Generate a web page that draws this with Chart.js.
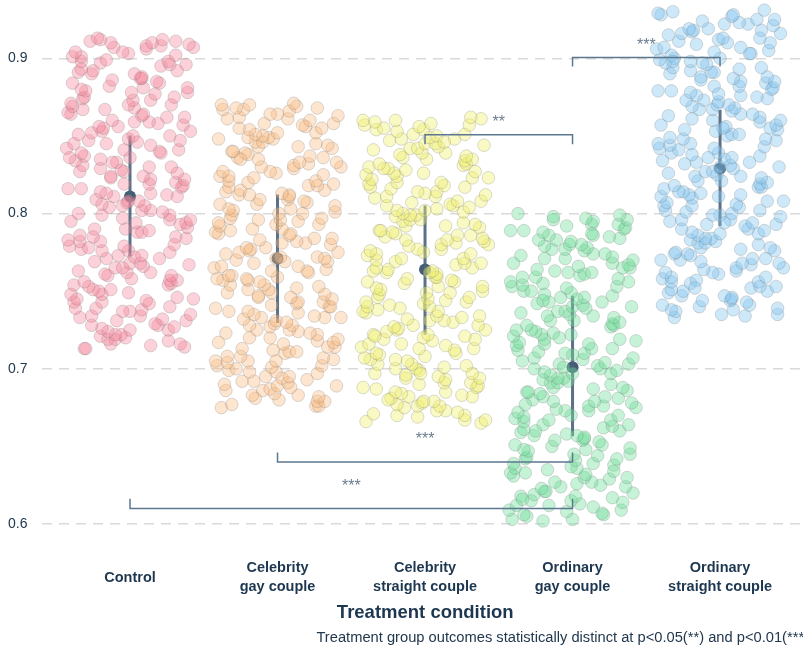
<!DOCTYPE html>
<html>
<head>
<meta charset="utf-8">
<title>Treatment condition</title>
<script src="https://cdn.jsdelivr.net/npm/chart.js"></script>
<style>
  html, body { margin: 0; padding: 0; background: #fff; overflow: hidden; }
  #wrap { position: relative; width: 809px; height: 647px; }
</style>
</head>
<body>
<div id="wrap"><canvas id="outcomeChart"></canvas></div>
<script>
// Values

const categories = ['Control', 'Celebrity gay couple', 'Celebrity straight couple', 'Ordinary gay couple', 'Ordinary straight couple'];
const tickLabels = ['Control', ['Celebrity', 'gay couple'], ['Celebrity', 'straight couple'], ['Ordinary', 'gay couple'], ['Ordinary', 'straight couple']];
const yTicks = [0.6, 0.7, 0.8, 0.9];

// horizontal jitter (category units) of the raw points
const jitterX = [
  -0.31, -0.30, 0.37, 0.14, -0.13, 0.34, 0.26, -0.15, -0.10, -0.03,
  -0.20, -0.06, -0.10, -0.15, 0.26, 0.00, -0.19, 0.30, -0.26, 0.19,
  0.17, -0.09, 0.38, 0.22, -0.34, 0.07, -0.26, 0.41, 0.00, -0.05,
  0.08, -0.23, -0.37, 0.27, 0.13, -0.38, -0.19, 0.11, -0.36, 0.43,
  0.32, -0.19, -0.40, -0.01, -0.21, -0.13, -0.25, -0.28, -0.38, 0.26,
  0.28, -0.31, 0.27, 0.32, 0.01, -0.15, 0.28, -0.17, 0.14, -0.02,
  -0.35, -0.10, -0.05, 0.09, 0.40, 0.00, 0.07, -0.24, -0.16, 0.20,
  0.03, 0.08, -0.08, 0.27, -0.19, -0.01, -0.33, -0.28, -0.04, -0.41,
  0.30, -0.34, -0.20, -0.42, 0.38, 0.31, -0.25, -0.34, 0.05, 0.08,
  0.13, -0.03, -0.24, 0.39, 0.34, 0.04, 0.38, -0.40, 0.27, 0.41,
  -0.05, -0.19, 0.27, -0.35, 0.22, 0.14, 0.08, -0.14, -0.05, 0.10,
  -0.19, -0.02, 0.06, -0.01, -0.23, -0.11, 0.32, 0.25, -0.16, 0.14,
  -0.20, -0.33, -0.42, 0.35, 0.36, -0.04, 0.13, 0.31, 0.14, 0.37,
  -0.13, 0.09, -0.13, 0.32, -0.34, -0.04, -0.06, -0.20, 0.13, 0.28,
  -0.32, -0.09, -0.12, -0.37, -0.20, -0.41, 0.00, -0.31, -0.33, 0.21,
  0.20, -0.04, 0.33, -0.43, 0.14, -0.38, -0.16, 0.05, 0.34, -0.28,
  -0.01, 0.27, 0.02, -0.35, -0.26, 0.41, -0.19, -0.18, -0.21, -0.08,
  0.36, 0.19, 0.03, 0.13, -0.12, 0.25, 0.37, 0.08, -0.40, 0.09,
  -0.42, -0.32, -0.17, 0.03, -0.39, -0.01, 0.28, -0.40, 0.14, 0.02,
  -0.32, 0.30, -0.31, 0.17, 0.01, 0.39, -0.30, -0.33, 0.09, 0.39,
  -0.14, -0.39, 0.20, 0.18, -0.12, 0.07, 0.08, 0.08, -0.26, 0.03,
  -0.35, -0.25, 0.32, -0.33, 0.21, 0.27, 0.38, -0.20, -0.33, 0.26,
  -0.16, -0.39, -0.33, 0.31, -0.01, -0.37, -0.05, 0.11, -0.11, 0.43,
  0.11, 0.21, 0.40, 0.15, -0.13, -0.27, 0.31, 0.22, -0.20, -0.22
];
// where each group starts reading the jitter list
const jitterStart = [0, 48, 96, 144, 192];

const controlY = [
  0.713, 0.713, 0.714, 0.715, 0.716, 0.716, 0.718, 0.719, 0.719, 0.720,
  0.721, 0.722, 0.722, 0.724, 0.725, 0.725, 0.726, 0.727, 0.728, 0.728,
  0.729, 0.731, 0.731, 0.732, 0.733, 0.734, 0.734, 0.735, 0.737, 0.737,
  0.738, 0.739, 0.739, 0.740, 0.742, 0.743, 0.743, 0.744, 0.745, 0.745,
  0.746, 0.748, 0.748, 0.749, 0.750, 0.751, 0.751, 0.753, 0.754, 0.754,
  0.755, 0.756, 0.757, 0.757, 0.758, 0.760, 0.760, 0.761, 0.762, 0.762,
  0.763, 0.765, 0.765, 0.766, 0.767, 0.768, 0.768, 0.769, 0.771, 0.771,
  0.772, 0.773, 0.773, 0.775, 0.776, 0.776, 0.777, 0.778, 0.779, 0.779,
  0.780, 0.782, 0.782, 0.783, 0.784, 0.785, 0.785, 0.786, 0.788, 0.788,
  0.789, 0.790, 0.790, 0.791, 0.793, 0.794, 0.794, 0.795, 0.796, 0.796,
  0.797, 0.799, 0.799, 0.800, 0.801, 0.802, 0.802, 0.804, 0.805, 0.805,
  0.806, 0.807, 0.808, 0.808, 0.809, 0.811, 0.811, 0.812, 0.813, 0.813,
  0.814, 0.816, 0.816, 0.817, 0.818, 0.819, 0.819, 0.820, 0.822, 0.822,
  0.823, 0.824, 0.824, 0.826, 0.827, 0.827, 0.828, 0.829, 0.830, 0.830,
  0.831, 0.833, 0.833, 0.834, 0.835, 0.836, 0.836, 0.837, 0.839, 0.839,
  0.840, 0.841, 0.841, 0.842, 0.844, 0.845, 0.845, 0.846, 0.847, 0.847,
  0.848, 0.850, 0.850, 0.851, 0.852, 0.853, 0.853, 0.855, 0.856, 0.856,
  0.857, 0.858, 0.859, 0.859, 0.860, 0.862, 0.862, 0.863, 0.864, 0.864,
  0.865, 0.867, 0.867, 0.868, 0.869, 0.870, 0.870, 0.871, 0.873, 0.873,
  0.874, 0.875, 0.875, 0.877, 0.878, 0.878, 0.879, 0.880, 0.881, 0.881,
  0.882, 0.884, 0.884, 0.885, 0.886, 0.887, 0.887, 0.888, 0.890, 0.890,
  0.891, 0.892, 0.892, 0.893, 0.895, 0.896, 0.896, 0.897, 0.898, 0.898,
  0.899, 0.901, 0.901, 0.902, 0.903, 0.904, 0.904, 0.906, 0.907, 0.907,
  0.908, 0.908, 0.909, 0.910, 0.910, 0.911, 0.911, 0.912, 0.912, 0.913
];

const celebGayY = [
  0.675, 0.676, 0.676, 0.677, 0.679, 0.679, 0.680, 0.681, 0.682, 0.683,
  0.683, 0.684, 0.686, 0.686, 0.687, 0.688, 0.689, 0.689, 0.691, 0.692,
  0.692, 0.693, 0.694, 0.695, 0.695, 0.697, 0.698, 0.698, 0.699, 0.700,
  0.701, 0.702, 0.702, 0.704, 0.705, 0.705, 0.706, 0.707, 0.708, 0.708,
  0.710, 0.711, 0.711, 0.712, 0.713, 0.714, 0.714, 0.716, 0.717, 0.717,
  0.718, 0.719, 0.720, 0.720, 0.722, 0.723, 0.723, 0.724, 0.725, 0.725,
  0.727, 0.728, 0.728, 0.729, 0.730, 0.731, 0.732, 0.733, 0.733, 0.734,
  0.735, 0.736, 0.737, 0.737, 0.739, 0.740, 0.740, 0.741, 0.742, 0.743,
  0.743, 0.745, 0.746, 0.746, 0.747, 0.748, 0.749, 0.749, 0.751, 0.751,
  0.752, 0.753, 0.754, 0.754, 0.756, 0.757, 0.757, 0.758, 0.759, 0.760,
  0.760, 0.762, 0.763, 0.763, 0.764, 0.765, 0.766, 0.766, 0.768, 0.769,
  0.769, 0.770, 0.771, 0.772, 0.772, 0.774, 0.775, 0.775, 0.776, 0.777,
  0.778, 0.778, 0.780, 0.781, 0.781, 0.782, 0.783, 0.784, 0.784, 0.786,
  0.787, 0.787, 0.788, 0.789, 0.790, 0.790, 0.792, 0.793, 0.793, 0.794,
  0.795, 0.796, 0.797, 0.797, 0.799, 0.800, 0.800, 0.801, 0.802, 0.803,
  0.803, 0.805, 0.806, 0.806, 0.807, 0.808, 0.809, 0.809, 0.811, 0.812,
  0.812, 0.813, 0.814, 0.815, 0.815, 0.817, 0.818, 0.818, 0.819, 0.820,
  0.821, 0.821, 0.823, 0.824, 0.824, 0.825, 0.826, 0.827, 0.827, 0.829,
  0.830, 0.830, 0.831, 0.832, 0.833, 0.833, 0.835, 0.836, 0.836, 0.837,
  0.838, 0.839, 0.840, 0.840, 0.842, 0.843, 0.843, 0.844, 0.845, 0.846,
  0.846, 0.848, 0.849, 0.849, 0.850, 0.851, 0.852, 0.852, 0.854, 0.855,
  0.855, 0.856, 0.857, 0.858, 0.858, 0.860, 0.861, 0.861, 0.862, 0.863,
  0.864, 0.864, 0.866, 0.867, 0.867, 0.868, 0.869, 0.870, 0.870, 0.871,
  0.690, 0.733, 0.771, 0.812, 0.848, 0.705, 0.758, 0.796, 0.835, 0.868
];

const celebStraightY = [
  0.665, 0.666, 0.667, 0.667, 0.669, 0.670, 0.670, 0.671, 0.672, 0.673,
  0.673, 0.675, 0.676, 0.676, 0.677, 0.678, 0.679, 0.679, 0.681, 0.682,
  0.682, 0.683, 0.684, 0.685, 0.685, 0.687, 0.688, 0.688, 0.689, 0.690,
  0.691, 0.691, 0.693, 0.694, 0.694, 0.695, 0.696, 0.697, 0.697, 0.699,
  0.700, 0.700, 0.701, 0.702, 0.703, 0.703, 0.705, 0.706, 0.706, 0.707,
  0.708, 0.709, 0.710, 0.710, 0.712, 0.713, 0.713, 0.714, 0.715, 0.716,
  0.716, 0.718, 0.719, 0.719, 0.720, 0.721, 0.722, 0.722, 0.724, 0.725,
  0.725, 0.726, 0.727, 0.728, 0.728, 0.730, 0.731, 0.731, 0.732, 0.733,
  0.734, 0.734, 0.736, 0.737, 0.737, 0.738, 0.739, 0.740, 0.740, 0.742,
  0.743, 0.743, 0.744, 0.745, 0.746, 0.746, 0.748, 0.749, 0.749, 0.750,
  0.751, 0.752, 0.753, 0.753, 0.755, 0.756, 0.756, 0.757, 0.758, 0.759,
  0.759, 0.761, 0.762, 0.762, 0.763, 0.764, 0.765, 0.765, 0.767, 0.768,
  0.768, 0.769, 0.770, 0.771, 0.771, 0.773, 0.774, 0.774, 0.775, 0.776,
  0.777, 0.777, 0.779, 0.780, 0.780, 0.781, 0.782, 0.783, 0.783, 0.785,
  0.786, 0.786, 0.787, 0.788, 0.789, 0.789, 0.791, 0.792, 0.792, 0.793,
  0.794, 0.795, 0.796, 0.796, 0.798, 0.799, 0.799, 0.800, 0.801, 0.802,
  0.802, 0.804, 0.805, 0.805, 0.806, 0.807, 0.808, 0.808, 0.810, 0.811,
  0.811, 0.812, 0.813, 0.814, 0.814, 0.816, 0.817, 0.817, 0.818, 0.819,
  0.820, 0.820, 0.822, 0.823, 0.823, 0.824, 0.825, 0.826, 0.826, 0.828,
  0.829, 0.829, 0.830, 0.831, 0.832, 0.832, 0.834, 0.835, 0.835, 0.836,
  0.837, 0.838, 0.839, 0.839, 0.841, 0.842, 0.842, 0.843, 0.844, 0.845,
  0.845, 0.847, 0.848, 0.848, 0.849, 0.850, 0.851, 0.851, 0.853, 0.854,
  0.854, 0.855, 0.856, 0.857, 0.857, 0.859, 0.860, 0.860, 0.861, 0.862,
  0.680, 0.721, 0.763, 0.803, 0.846, 0.697, 0.741, 0.784, 0.827, 0.858
];

const ordinaryGayY = [
  0.602, 0.603, 0.603, 0.605, 0.606, 0.606, 0.607, 0.608, 0.609, 0.609,
  0.611, 0.612, 0.612, 0.613, 0.614, 0.615, 0.615, 0.617, 0.618, 0.618,
  0.619, 0.620, 0.621, 0.621, 0.623, 0.624, 0.624, 0.625, 0.626, 0.627,
  0.627, 0.629, 0.630, 0.630, 0.631, 0.632, 0.633, 0.633, 0.635, 0.636,
  0.636, 0.637, 0.638, 0.639, 0.639, 0.641, 0.642, 0.642, 0.643, 0.644,
  0.645, 0.645, 0.647, 0.648, 0.648, 0.649, 0.650, 0.651, 0.651, 0.653,
  0.654, 0.654, 0.655, 0.656, 0.657, 0.657, 0.659, 0.660, 0.660, 0.661,
  0.662, 0.663, 0.664, 0.664, 0.666, 0.667, 0.667, 0.668, 0.669, 0.670,
  0.670, 0.672, 0.673, 0.673, 0.674, 0.675, 0.676, 0.676, 0.678, 0.679,
  0.679, 0.680, 0.681, 0.682, 0.682, 0.684, 0.685, 0.685, 0.686, 0.687,
  0.688, 0.688, 0.690, 0.691, 0.691, 0.692, 0.693, 0.694, 0.694, 0.696,
  0.697, 0.697, 0.698, 0.699, 0.700, 0.700, 0.702, 0.703, 0.703, 0.704,
  0.705, 0.706, 0.707, 0.707, 0.709, 0.710, 0.710, 0.711, 0.712, 0.713,
  0.713, 0.715, 0.716, 0.716, 0.717, 0.718, 0.719, 0.719, 0.721, 0.722,
  0.722, 0.723, 0.724, 0.725, 0.725, 0.727, 0.728, 0.728, 0.729, 0.730,
  0.731, 0.731, 0.733, 0.734, 0.734, 0.735, 0.736, 0.737, 0.737, 0.739,
  0.740, 0.740, 0.741, 0.742, 0.743, 0.743, 0.745, 0.746, 0.746, 0.747,
  0.748, 0.749, 0.750, 0.750, 0.752, 0.753, 0.753, 0.754, 0.755, 0.756,
  0.756, 0.758, 0.759, 0.759, 0.760, 0.761, 0.762, 0.762, 0.764, 0.765,
  0.765, 0.766, 0.767, 0.768, 0.768, 0.770, 0.771, 0.771, 0.772, 0.773,
  0.774, 0.774, 0.776, 0.777, 0.777, 0.778, 0.779, 0.780, 0.780, 0.782,
  0.783, 0.783, 0.784, 0.785, 0.786, 0.786, 0.788, 0.789, 0.789, 0.790,
  0.791, 0.792, 0.793, 0.793, 0.795, 0.796, 0.796, 0.797, 0.798, 0.799,
  0.616, 0.658, 0.701, 0.744, 0.787, 0.634, 0.677, 0.720, 0.763, 0.800
];

const ordinaryStraightY = [
  0.733, 0.734, 0.735, 0.735, 0.737, 0.738, 0.738, 0.739, 0.740, 0.741,
  0.741, 0.743, 0.744, 0.744, 0.745, 0.746, 0.747, 0.747, 0.749, 0.750,
  0.750, 0.751, 0.752, 0.753, 0.753, 0.755, 0.756, 0.756, 0.757, 0.758,
  0.759, 0.759, 0.761, 0.762, 0.762, 0.763, 0.764, 0.765, 0.765, 0.767,
  0.768, 0.768, 0.769, 0.770, 0.771, 0.771, 0.773, 0.774, 0.774, 0.775,
  0.776, 0.777, 0.778, 0.778, 0.780, 0.781, 0.781, 0.782, 0.783, 0.784,
  0.784, 0.786, 0.787, 0.787, 0.788, 0.789, 0.790, 0.790, 0.792, 0.793,
  0.793, 0.794, 0.795, 0.796, 0.796, 0.798, 0.799, 0.799, 0.800, 0.801,
  0.802, 0.802, 0.804, 0.805, 0.805, 0.806, 0.807, 0.808, 0.808, 0.810,
  0.811, 0.811, 0.812, 0.813, 0.814, 0.814, 0.816, 0.817, 0.817, 0.818,
  0.819, 0.820, 0.821, 0.821, 0.823, 0.824, 0.824, 0.825, 0.826, 0.827,
  0.827, 0.829, 0.830, 0.830, 0.831, 0.832, 0.833, 0.833, 0.835, 0.836,
  0.836, 0.837, 0.838, 0.839, 0.839, 0.841, 0.842, 0.842, 0.843, 0.844,
  0.845, 0.845, 0.847, 0.848, 0.848, 0.849, 0.850, 0.851, 0.851, 0.853,
  0.854, 0.854, 0.855, 0.856, 0.857, 0.857, 0.859, 0.860, 0.860, 0.861,
  0.862, 0.863, 0.864, 0.864, 0.866, 0.867, 0.867, 0.868, 0.869, 0.870,
  0.870, 0.872, 0.873, 0.873, 0.874, 0.875, 0.876, 0.876, 0.878, 0.879,
  0.879, 0.880, 0.881, 0.882, 0.882, 0.884, 0.885, 0.885, 0.886, 0.887,
  0.888, 0.888, 0.890, 0.891, 0.891, 0.892, 0.893, 0.894, 0.894, 0.896,
  0.897, 0.897, 0.898, 0.899, 0.900, 0.900, 0.902, 0.903, 0.903, 0.904,
  0.905, 0.906, 0.907, 0.907, 0.909, 0.910, 0.910, 0.911, 0.912, 0.913,
  0.913, 0.915, 0.916, 0.916, 0.917, 0.918, 0.919, 0.919, 0.921, 0.922,
  0.922, 0.923, 0.924, 0.925, 0.925, 0.927, 0.928, 0.928, 0.929, 0.930,
  0.752, 0.794, 0.834, 0.877, 0.918, 0.770, 0.812, 0.855, 0.898, 0.931
];

// group means and interval ends
const means = [0.811, 0.771, 0.764, 0.701, 0.829];
const ciLow = [0.7725, 0.7295, 0.7219, 0.6568, 0.7918];
const ciHigh = [0.8503, 0.8123, 0.8052, 0.7471, 0.8667];

// significance brackets (category positions 1..5)
const bracketFrom = [4, 3, 2, 1];
const bracketTo = [5, 4, 4, 4];
const bracketY = [0.9005, 0.8507, 0.6399, 0.6100];
const bracketTickY = [0.8947, 0.8447, 0.6461, 0.6163];
const bracketStars = ['***', '**', '***', '***'];
const starY = [0.9100, 0.8603, 0.6562, 0.6260];

const footnote = 'Treatment group outcomes statistically distinct at p<0.05(**) and p<0.01(***)';

const groupValues = [controlY, celebGayY, celebStraightY, ordinaryGayY, ordinaryStraightY];
const groupFill = [
  'rgba(248, 140, 160, 0.40)',
  'rgba(250, 190, 135, 0.40)',
  'rgba(240, 240, 115, 0.42)',
  'rgba(120, 225, 160, 0.42)',
  'rgba(135, 200, 240, 0.42)'
];

const FONT = '"Liberation Sans", Arial, sans-serif';
const NAVY = '#1d3750';
const BAR = 'rgba(72, 98, 122, 0.9)';

const datasets = [];

// raw points (drawn on top)
groupValues.forEach((vals, g) => {
  datasets.push({
    type: 'scatter',
    label: categories[g],
    data: vals.map((v, k) => ({ x: g + 1 + jitterX[(k + jitterStart[g]) % jitterX.length], y: v })),
    backgroundColor: groupFill[g],
    borderColor: 'rgba(110, 110, 110, 0.24)',
    borderWidth: 1,
    pointRadius: 6.3,
    order: 0
  });
});

// interval bars
means.forEach((m, g) => {
  datasets.push({
    type: 'line',
    data: [{ x: g + 1, y: ciLow[g] }, { x: g + 1, y: ciHigh[g] }],
    borderColor: BAR,
    borderWidth: 3,
    borderCapStyle: 'butt',
    pointRadius: 0,
    order: 1
  });
});

// means
datasets.push({
  type: 'scatter',
  data: means.map((m, g) => ({ x: g + 1, y: m })),
  backgroundColor: '#435d73',
  borderWidth: 0,
  pointRadius: 6,
  order: 1
});

// brackets
bracketFrom.forEach((a, i) => {
  const b = bracketTo[i];
  datasets.push({
    type: 'line',
    data: [
      { x: a, y: bracketTickY[i] },
      { x: a, y: bracketY[i] },
      { x: b, y: bracketY[i] },
      { x: b, y: bracketTickY[i] }
    ],
    borderColor: '#5c7890',
    borderWidth: 1.5,
    pointRadius: 0,
    tension: 0,
    order: -1
  });
});

const starPlugin = {
  id: 'stars',
  afterDatasetsDraw(chart) {
    const { ctx, scales: { x, y } } = chart;
    ctx.save();
    ctx.font = '16px ' + FONT;
    ctx.fillStyle = '#6a7d8f';
    ctx.textAlign = 'center';
    ctx.textBaseline = 'middle';
    bracketStars.forEach((s, i) => {
      const mid = (bracketFrom[i] + bracketTo[i]) / 2;
      ctx.fillText(s, x.getPixelForValue(mid), y.getPixelForValue(starY[i]) + 3);
    });
    ctx.restore();
  }
};

new Chart(document.getElementById('outcomeChart'), {
  type: 'scatter',
  data: { datasets },
  plugins: [starPlugin],
  options: {
    responsive: true,
    maintainAspectRatio: false,
    animation: false,
    events: [],
    layout: { padding: 0, autoPadding: false },
    plugins: {
      legend: { display: false },
      tooltip: { enabled: false },
      title: {
        display: true,
        position: 'bottom',
        align: 'end',
        text: footnote,
        color: '#22384d',
        font: { family: FONT, size: 14.7, weight: 'normal' },
        padding: { top: 5, bottom: 0.6 }
      }
    },
    scales: {
      x: {
        type: 'linear',
        min: 0.4,
        max: 5.603,
        grid: { display: false, drawTicks: false },
        border: { display: false },
        afterBuildTicks: s => { s.ticks = categories.map((c, i) => ({ value: i + 1 })); },
        afterFit: s => { s.height = 80; s.paddingLeft = 0; s.paddingRight = 0; },
        ticks: {
          autoSkip: false,
          maxRotation: 0,
          padding: 24.7,
          crossAlign: 'center',
          color: NAVY,
          font: { family: FONT, size: 14.5, weight: 'bold', lineHeight: 1.25 },
          callback: (v, i) => tickLabels[i]
        },
        title: {
          display: true,
          text: 'Treatment condition',
          color: NAVY,
          font: { family: FONT, size: 18.5, weight: 'bold' },
          padding: { top: 0, bottom: 0 }
        }
      },
      y: {
        min: 0.58732,
        max: 0.93753,
        grid: { color: '#dadada', lineWidth: 1.5, drawTicks: false },
        border: { display: false, dash: [10, 7] },
        afterBuildTicks: s => { s.ticks = yTicks.map(v => ({ value: v })); },
        afterFit: s => { s.width = 41.5; s.paddingTop = 0; s.paddingBottom = 0; },
        ticks: {
          padding: 14,
          color: '#21394f',
          font: { family: FONT, size: 14 },
          callback: v => v.toFixed(1)
        }
      }
    }
  }
});
</script>
</body>
</html>
